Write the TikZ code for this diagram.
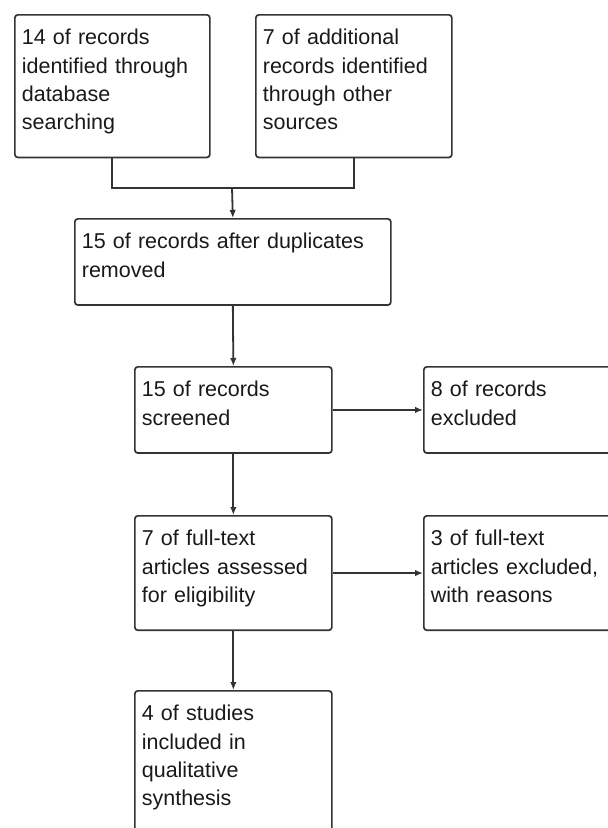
\documentclass[tikz,border=0pt]{standalone}
\usepackage{fontspec}
\setmainfont{Liberation Sans}
\usetikzlibrary{arrows.meta}
\newcommand{\topgap}{\rule{0pt}{30pt}}
\newcommand{\botgap}{\rule[-28pt]{0pt}{28pt}}
\begin{document}
\begin{tikzpicture}[x=1pt,y=-1pt,
    box/.style={draw=black!80,line width=1.7pt,rounded corners=3pt,anchor=north west,
      align=left,inner xsep=7pt,inner ysep=0pt,text=black!90,
      font=\fontsize{21.5}{28.2}\selectfont,
      execute at begin node=\topgap,execute at end node=\botgap},
    link/.style={draw=black!80,line width=1.8pt},
    arr/.style={link,-{Latex[length=8pt,width=6.5pt]}}]
  \useasboundingbox (0,0) rectangle (608,828);
  \clip (0,0) rectangle (608,828);
  \node[box,text width=181pt] (ident) at (14,14) {14 of records\\identified through\\database\\searching};
  \node[box,text width=182pt] (other) at (255,14) {7 of additional\\records identified\\through other\\sources};
  \node[box,text width=302pt] (dedup) at (74,218) {15 of records after duplicates\\removed};
  \node[box,text width=183pt] (screen) at (134,366) {15 of records\\screened};
  \node[box,text width=183pt] (excl) at (423,366) {8 of records\\excluded};
  \node[box,text width=183pt] (full) at (134,515) {7 of full-text\\articles assessed\\for eligibility};
  \node[box,text width=183pt] (fullex) at (423,515) {3 of full-text\\articles excluded,\\with reasons};
  \node[box,text width=183pt] (incl) at (134,690) {4 of studies\\included in\\qualitative\\synthesis};
  \coordinate (join) at (232,188);
  \draw[link] (ident.south) |- (join) -| (other.south);
  \draw[arr] (join) -- (dedup.north);
  \draw[arr] (dedup.south) -- (screen.north);
  \draw[arr] (screen.east) -- (excl.west);
  \draw[arr] (screen.south) -- (full.north);
  \draw[arr] (full.east) -- (fullex.west);
  \draw[arr] (full.south) -- (incl.north);
\end{tikzpicture}
\end{document}
